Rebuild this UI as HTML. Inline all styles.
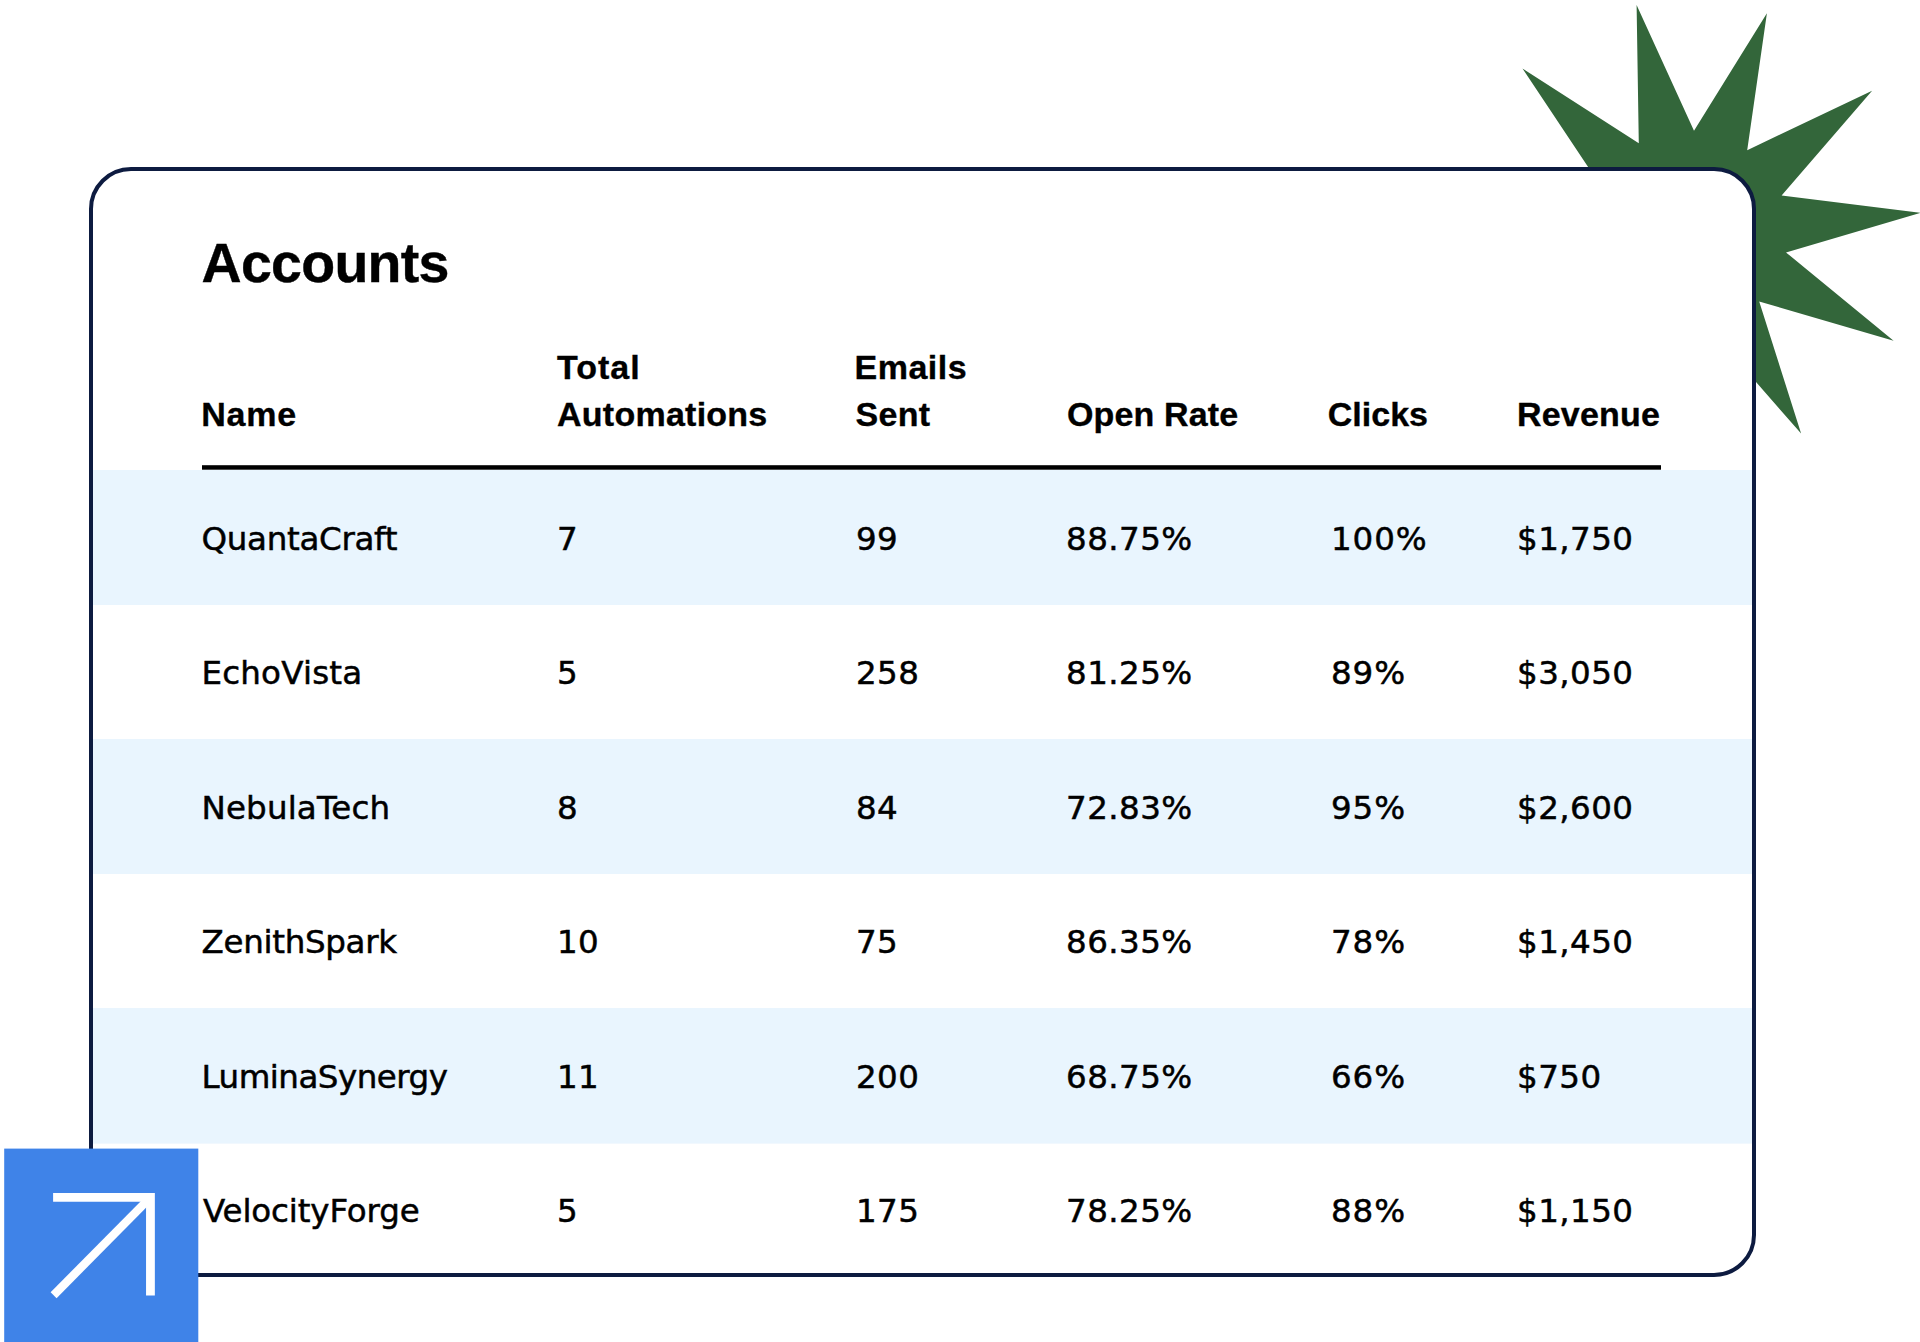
<!DOCTYPE html>
<html lang="en">
<head>
<meta charset="utf-8">
<title>Accounts</title>
<style>
  html, body { margin: 0; padding: 0; background: #ffffff; }
  body {
    position: relative; width: 1920px; height: 1342px; overflow: hidden;
    font-family: "Liberation Sans", Arial, Helvetica, sans-serif;
    color: #000000;
  }
  .star { position: absolute; left: 0; top: 0; width: 1920px; height: 1342px; }
  .card {
    position: absolute; left: 89px; top: 167px; width: 1667px; height: 1110px;
    box-sizing: border-box; border: 4px solid #0d1b40; border-radius: 42px;
    background: #ffffff; overflow: hidden;
  }
  /* coordinates inside .card are page coords minus (93,171) */
  .card h1 {
    position: absolute; left: 108.5px; top: 61.8px; margin: 0;
    font-size: 55.5px; line-height: 60px; font-weight: 700; letter-spacing: -0.7px;
    -webkit-text-stroke: 0.4px #000;
    white-space: nowrap;
  }
  .thead { position: absolute; left: 0; top: 0; width: 100%; height: 299px;
    font-size: 34px; line-height: 47px; font-weight: 700; letter-spacing: 0.2px;
    -webkit-text-stroke: 0.35px #000; }
  .thead .th { position: absolute; bottom: 32.3px; white-space: nowrap; }
  .rule { position: absolute; left: 109px; top: 294px; width: 1459px; height: 5px;
    background: linear-gradient(to bottom, rgba(0,0,0,.8) 0, rgba(0,0,0,.8) 1px, #000 1px, #000 4px, rgba(0,0,0,.7) 4px, rgba(0,0,0,.7) 5px); }
  .row { position: absolute; left: 0; width: 100%; height: 134.6px;
    font-family: "DejaVu Sans", "Liberation Sans", sans-serif;
    font-size: 32.5px; line-height: 40px; letter-spacing: 0px;
    -webkit-text-stroke: 0.5px #000; }
  .row.alt { background: #e9f5fe; }
  .row span { position: absolute; top: 49px; white-space: nowrap; }
  .row.up span { top: 48px; }
  .c1 { left: 110px; } .c2 { left: 464px; } .c3 { left: 763px; }
  .c4 { left: 974px; } .c5 { left: 1236px; } .c6 { left: 1425px; }
  .row .c1 { left: 108.5px; }
  .row .c2, .row .c3 { letter-spacing: 0.4px; }
  .row .c4 { left: 973px; letter-spacing: 0.45px; }
  .row .c5 { left: 1238px; letter-spacing: 0.9px; }
  .row .c6 { left: 1424px; letter-spacing: 0.45px; }
  .badge { position: absolute; left: 0; top: 1148px; width: 200px; height: 194px; }
  .badge svg { position: absolute; left: 0; top: 0; }
</style>
</head>
<body>
  <svg class="star" viewBox="0 0 1920 1342" aria-hidden="true">
    <polygon fill="#33663a" points="1920.6,212.9 1786.0,252.4 1893.6,340.7 1759.2,301.5 1801.1,433.6 1709.8,329.0 1672.9,462.3 1653.3,325.4 1550.3,417.6 1607.7,291.9 1471.2,313.7 1587.5,239.0 1460.9,183.6 1599.1,183.6 1522.5,68.5 1638.8,143.3 1636.6,5.0 1694.0,130.8 1766.9,13.3 1747.2,150.2 1872.1,90.8 1781.6,195.6"/>
  </svg>

  <div class="card">
    <h1>Accounts</h1>
    <div class="thead">
      <div class="th c1" style="left:108.2px;letter-spacing:0.8px">Name</div>
      <div class="th c2"><span style="letter-spacing:1px">Total</span><br><span style="letter-spacing:0.25px">Automations</span></div>
      <div class="th c3"><span style="letter-spacing:0.5px;margin-left:-1.5px">Emails</span><br><span style="letter-spacing:0.3px;margin-left:-0.5px">Sent</span></div>
      <div class="th c4" style="letter-spacing:0.15px">Open Rate</div>
      <div class="th c5" style="left:1234.8px;letter-spacing:0px">Clicks</div>
      <div class="th c6" style="left:1424px;letter-spacing:0.2px">Revenue</div>
    </div>
    <div class="rule"></div>
    <div class="row alt" style="top:299px;height:135px"><span class="c1" style="letter-spacing:-0.3px">QuantaCraft</span><span class="c2">7</span><span class="c3">99</span><span class="c4">88.75%</span><span class="c5">100%</span><span class="c6">$1,750</span></div>
    <div class="row up" style="top:434px;height:134px"><span class="c1" style="letter-spacing:0.2px">EchoVista</span><span class="c2">5</span><span class="c3">258</span><span class="c4">81.25%</span><span class="c5">89%</span><span class="c6">$3,050</span></div>
    <div class="row alt" style="top:568px;height:135px"><span class="c1" style="letter-spacing:0.15px">NebulaTech</span><span class="c2">8</span><span class="c3">84</span><span class="c4">72.83%</span><span class="c5">95%</span><span class="c6">$2,600</span></div>
    <div class="row up" style="top:703px;height:134px"><span class="c1" style="letter-spacing:-0.3px">ZenithSpark</span><span class="c2">10</span><span class="c3">75</span><span class="c4">86.35%</span><span class="c5">78%</span><span class="c6">$1,450</span></div>
    <div class="row alt" style="top:837px;height:135px;box-shadow:0 1px 0 rgba(233,245,254,0.65)"><span class="c1" style="letter-spacing:-0.5px">LuminaSynergy</span><span class="c2">11</span><span class="c3">200</span><span class="c4">68.75%</span><span class="c5">66%</span><span class="c6">$750</span></div>
    <div class="row up" style="top:972px;height:135px"><span class="c1" style="left:110px;letter-spacing:-0.13px">VelocityForge</span><span class="c2">5</span><span class="c3">175</span><span class="c4">78.25%</span><span class="c5">88%</span><span class="c6">$1,150</span></div>
  </div>

  <div class="badge">
    <svg width="200" height="194" viewBox="0 0 200 194" aria-hidden="true">
      <rect x="4.2" y="0.6" width="194.1" height="194" fill="#3f83e8"/>
      <g fill="none" stroke="#ffffff" stroke-linecap="butt" stroke-linejoin="miter">
        <polyline stroke-width="8.8" points="53.1,49.35 150.45,49.35 150.45,147.5"/>
        <line stroke-width="8.4" x1="150.45" y1="49.35" x2="53.6" y2="147.2"/>
      </g>
    </svg>
  </div>
</body>
</html>
